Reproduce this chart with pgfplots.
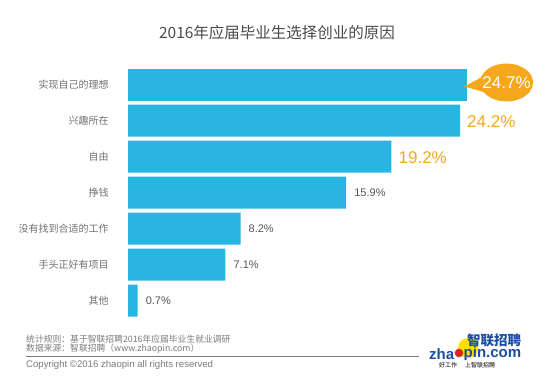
\documentclass[border=0pt]{standalone}
\usepackage{pgfplots}
\pgfplotsset{compat=1.18}
\usepackage{fontspec}
\setmainfont{Liberation Sans}
\newfontfamily\cjk{Noto Sans CJK SC}
\usetikzlibrary{shapes.callouts}
\definecolor{barblue}{HTML}{29B5E2}
\definecolor{orng}{HTML}{F5A81C}
\definecolor{titlegray}{HTML}{4A4A4A}
\definecolor{labgray}{HTML}{707070}
\definecolor{valgray}{HTML}{555555}
\definecolor{footgray}{HTML}{7A7A7A}
\definecolor{logoblue}{HTML}{1A4DA1}
\definecolor{logoyellow}{HTML}{FFE100}
\definecolor{logored}{HTML}{D8281E}
\begin{document}
\begin{tikzpicture}
\path[use as bounding box] (0,0) rectangle (550bp,-389bp);
\node[font=\cjk\fontsize{15.5bp}{17bp}\selectfont, text=titlegray] at (277bp,-33bp) {2016年应届毕业生选择创业的原因};
\begin{axis}[
  at={(128bp,-318.5bp)}, anchor=south west,
  scale only axis, width=411.6bp, height=252bp,
  xmin=0, xmax=30, ymin=0.5, ymax=7.5,
  y dir=reverse,
  xbar, bar width=32bp, bar shift=0pt,
  axis line style={draw=none}, tick style={draw=none},
  xtick=\empty,
  ytick={1,2,3,4,5,6,7},
  yticklabels={实现自己的理想,兴趣所在,自由,挣钱,没有找到合适的工作,手头正好有项目,其他},
  yticklabel style={font=\cjk\fontsize{10bp}{12bp}\selectfont, text=labgray, anchor=east, inner sep=0pt, xshift=-14.8bp},
  point meta=explicit symbolic,
  nodes near coords,
  clip=false,
]
\addplot[fill=barblue, draw=none,
  nodes near coords style={ellipse callout, fill=orng, text=white,
    font=\fontsize{17bp}{19bp}\selectfont, minimum width=53bp, minimum height=38bp,
    inner xsep=-5.4bp, inner ysep=0pt, anchor=west, xshift=13bp, yshift=2bp,
    callout pointer arc=45,
    callout relative pointer={(-16bp,-1.5bp)}}]
  coordinates {(24.7,1) [24.7\%]};
\addplot[fill=barblue, draw=none,
  nodes near coords style={text=orng, font=\fontsize{17bp}{19bp}\selectfont,
    inner sep=0pt, anchor=west, xshift=7bp, yshift=-1.5bp}]
  coordinates {(24.2,2) [24.2\%] (19.2,3) [19.2\%]};
\addplot[fill=barblue, draw=none,
  nodes near coords style={text=valgray, font=\fontsize{11bp}{13bp}\selectfont,
    inner sep=0pt, anchor=west, xshift=8bp}]
  coordinates {(15.9,4) [15.9\%] (8.2,5) [8.2\%] (7.1,6) [7.1\%] (0.7,7) [0.7\%]};
\end{axis}
% footer
\node[anchor=west, inner sep=0pt, text=footgray, font=\cjk\fontsize{8.8bp}{10bp}\selectfont] at (26bp,-339bp) {统计规则：基于智联招聘2016年应届毕业生就业调研};
\node[anchor=west, inner sep=0pt, text=footgray, font=\cjk\fontsize{8.8bp}{10bp}\selectfont] at (26bp,-349bp) {数据来源：智联招聘（www.zhaopin.com）};
\draw[footgray, line width=0.6bp] (26bp,-356bp) -- (419bp,-356bp);
\node[anchor=west, inner sep=0pt, text=footgray, font=\fontsize{9.6bp}{11bp}\selectfont] at (26bp,-365.5bp) {Copyright \textcopyright 2016 zhaopin all rights reserved};
% logo
\fill[logoyellow] (468bp,-348bp) circle (10bp);
\node[anchor=west, inner sep=0pt, text=logoblue, font=\cjk\bfseries\fontsize{13.5bp}{14bp}\selectfont] at (467bp,-340.5bp) {智联招聘};
\node[anchor=west, inner sep=0pt, text=logoblue, font=\bfseries\fontsize{15bp}{16bp}\selectfont] at (429bp,-354bp) {zha};
\fill[logored] (459bp,-353bp) circle (4.3bp);
\node[anchor=west, inner sep=0pt, text=logoblue, font=\bfseries\fontsize{15bp}{16bp}\selectfont] at (463.5bp,-354bp) {pin.com};
\node[anchor=west, inner sep=0pt, text=black, font=\cjk\fontsize{6bp}{7bp}\selectfont] at (439bp,-365bp) {\textit{好工作}\hspace{8bp}\textit{上智联招聘}};
\end{tikzpicture}
\end{document}
